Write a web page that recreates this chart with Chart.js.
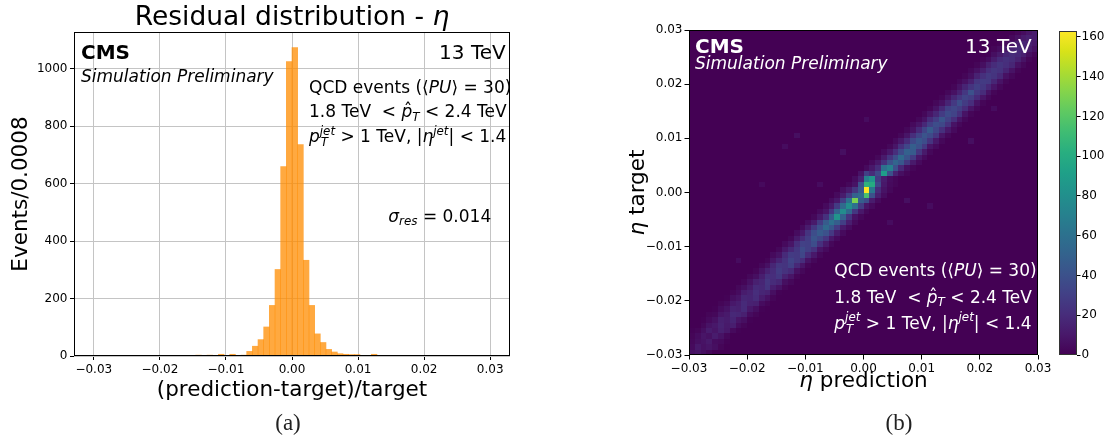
<!DOCTYPE html>
<html>
<head>
<meta charset="utf-8">
<title>Residual distribution - eta</title>
<script src="https://cdn.jsdelivr.net/npm/chart.js@4.4.1/dist/chart.umd.min.js"></script>
<style>
  html, body { margin: 0; padding: 0; background: #fff; }
  #wrap { position: relative; width: 1110px; height: 440px; overflow: hidden; }
  canvas { position: absolute; top: 0; }
  #c-hist { left: 0; }
  #c-heat { left: 560px; }
  #c-cbar { left: 1040px; }
  .panel-tag { position: absolute; top: 410px; font: 23px "Liberation Serif", serif; color: #222; transform: translateX(-50%); }
</style>
</head>
<body>
<div id="wrap">
  <canvas id="c-hist" width="540" height="440"></canvas>
  <canvas id="c-cbar" width="70" height="440"></canvas>
  <canvas id="c-heat" width="500" height="440"></canvas>
  <div class="panel-tag" style="left:288px">(a)</div>
  <div class="panel-tag" style="left:899px">(b)</div>
</div>
<script>
// ── Data ──────────────────────────────────────────────────

// (a) residual histogram: 70 bins between histLo and histHi
const histLo = -0.03;
const histHi = 0.03;
const histCounts = [
  0, 0, 1, 0, 0, 1, 1, 0, 2, 1,
  1, 2, 1, 1, 2, 1, 2, 2, 3, 2,
  3, 2, 6, 2, 6, 2, 3, 16, 34, 57,
  101, 176, 301, 659, 1024, 1073, 735, 333, 176, 77,
  47, 23, 14, 8, 6, 5, 5, 2, 2, 6,
  2, 1, 2, 1, 1, 2, 1, 1, 1, 2,
  1, 1, 2, 1, 1, 1, 0, 1, 1, 0,
];
const histXTicks = [-0.03, -0.02, -0.01, 0, 0.01, 0.02, 0.03];
const histYTicks = [0, 200, 400, 600, 800, 1000];
const histXMin = -0.033;
const histXMax = 0.033;
const histYMax = 1127;

// (b) 2D histogram: 60 x 60 bins, eta prediction (x) vs eta target (y)
const heatLo = -0.03;
const heatHi = 0.03;
const heatBins = 60;
// one row per target bin (bottom to top); entries are the counts in
// prediction bins row-4 .. row+4 (the band along the diagonal)
const heatRows = [
  [0, 0, 0, 0, 7, 9, 6, 3, 0],
  [0, 0, 0, 4, 10, 7, 9, 6, 2],
  [0, 0, 3, 6, 8, 11, 5, 4, 1],
  [0, 2, 5, 9, 7, 12, 8, 3, 0],
  [1, 2, 6, 12, 9, 14, 10, 4, 1],
  [0, 3, 8, 10, 15, 11, 13, 5, 2],
  [1, 4, 7, 14, 12, 16, 9, 6, 1],
  [2, 3, 9, 11, 18, 17, 14, 5, 2],
  [1, 5, 8, 15, 14, 19, 10, 6, 1],
  [2, 4, 10, 13, 19, 15, 14, 5, 2],
  [1, 6, 9, 17, 16, 20, 12, 7, 2],
  [2, 5, 12, 15, 21, 17, 15, 6, 1],
  [3, 6, 11, 19, 18, 24, 13, 8, 2],
  [2, 7, 14, 17, 25, 20, 17, 6, 3],
  [3, 6, 13, 22, 21, 26, 15, 9, 2],
  [2, 8, 15, 20, 28, 23, 19, 7, 3],
  [3, 7, 17, 25, 24, 30, 18, 9, 2],
  [2, 9, 16, 23, 32, 27, 21, 8, 3],
  [4, 8, 19, 28, 27, 34, 20, 10, 3],
  [3, 10, 18, 26, 36, 30, 23, 9, 4],
  [4, 9, 21, 31, 30, 38, 22, 11, 3],
  [3, 11, 20, 29, 42, 35, 25, 10, 4],
  [5, 10, 24, 38, 46, 40, 27, 12, 4],
  [4, 12, 26, 40, 55, 44, 28, 11, 5],
  [5, 11, 28, 46, 60, 48, 30, 13, 4],
  [3, 10, 22, 48, 84, 50, 24, 8, 3],
  [4, 9, 26, 52, 78, 55, 26, 10, 3],
  [4, 11, 28, 56, 80, 60, 28, 9, 4],
  [5, 10, 30, 60, 130, 48, 38, 12, 4],
  [4, 12, 28, 50, 56, 115, 40, 14, 5],
  [6, 12, 25, 45, 163, 65, 20, 8, 3],
  [3, 8, 40, 105, 100, 35, 10, 4, 2],
  [5, 15, 70, 85, 28, 12, 5, 2, 0],
  [8, 30, 20, 35, 90, 40, 15, 6, 2],
  [4, 10, 20, 60, 70, 40, 18, 6, 2],
  [4, 10, 22, 40, 52, 44, 26, 11, 4],
  [3, 11, 24, 38, 56, 42, 28, 10, 4],
  [4, 10, 21, 36, 50, 46, 25, 11, 3],
  [3, 9, 22, 34, 48, 40, 27, 9, 4],
  [4, 10, 20, 35, 44, 38, 24, 10, 3],
  [3, 9, 21, 32, 42, 36, 25, 9, 3],
  [3, 8, 19, 33, 46, 34, 22, 10, 4],
  [4, 9, 18, 30, 38, 35, 23, 8, 3],
  [3, 8, 20, 29, 42, 31, 21, 9, 3],
  [3, 9, 17, 28, 36, 32, 22, 8, 2],
  [2, 8, 18, 30, 34, 29, 20, 9, 3],
  [3, 7, 16, 27, 38, 28, 21, 8, 2],
  [2, 8, 17, 25, 32, 29, 19, 9, 3],
  [3, 7, 15, 26, 40, 27, 20, 8, 2],
  [2, 8, 16, 24, 30, 26, 18, 9, 3],
  [3, 7, 14, 25, 28, 27, 17, 8, 2],
  [2, 6, 15, 22, 27, 24, 18, 7, 3],
  [3, 7, 13, 21, 25, 23, 16, 8, 2],
  [2, 6, 14, 20, 24, 21, 17, 7, 3],
  [2, 5, 12, 19, 22, 20, 15, 8, 2],
  [1, 6, 11, 17, 20, 18, 14, 6, 2],
  [2, 5, 10, 15, 18, 16, 12, 7, 1],
  [1, 4, 9, 13, 16, 14, 10, 5, 1],
  [0, 3, 7, 11, 14, 12, 8, 4, 0],
  [0, 2, 5, 9, 12, 10, 6, 0, 0],
];
// isolated faint cells away from the band: [prediction bin, target bin, count]
const strayCells = [
  [18, 40, 6], [16, 38, 5], [30, 43, 5], [48, 39, 6], [37, 28, 6],
  [22, 31, 5], [12, 31, 4], [34, 24, 5], [26, 37, 6], [41, 27, 5],
  [8, 17, 5], [52, 45, 5],
];
const heatTicks = [-0.03, -0.02, -0.01, 0, 0.01, 0.02, 0.03];

// colour bar
const cbMax = 163;
const cbTicks = [0, 20, 40, 60, 80, 100, 120, 140, 160];

// ── Helpers ───────────────────────────────────────────────

const FAMILY = '"DejaVu Sans"';
const MINUS = '\u2212';

// matplotlib viridis, 17 evenly spaced samples
const VIRIDIS = [
  '#440154', '#48186a', '#472d7b', '#424086', '#3b528b', '#33638d',
  '#2c728e', '#26828e', '#21918c', '#1fa088', '#28ae80', '#3fbc73',
  '#5ec962', '#84d44b', '#addc30', '#d8e219', '#fde725',
];

function hexRgb(h) {
  return [1, 3, 5].map(i => parseInt(h.slice(i, i + 2), 16));
}

function viridis(t) {
  t = Math.max(0, Math.min(1, t));
  const p = t * (VIRIDIS.length - 1);
  const i = Math.min(VIRIDIS.length - 2, Math.floor(p));
  const f = p - i;
  const a = hexRgb(VIRIDIS[i]);
  const b = hexRgb(VIRIDIS[i + 1]);
  const c = a.map((v, k) => Math.round(v + (b[k] - v) * f));
  return `rgb(${c[0]},${c[1]},${c[2]})`;
}

function fmtTick(v) {
  const s = Math.abs(v) < 1e-9 ? '0.00' : v.toFixed(2);
  return s.replace('-', MINUS);
}

function fontStr(size, st) {
  return (st.includes('i') ? 'italic ' : '') + (st.includes('b') ? 'bold ' : '') + size + 'px ' + FAMILY;
}

// Runs: [text], [text,'i'|'b'], [text,'sub'], [text,'sup'], [sup,sub,'stack'], [text,'hat']
function drawRich(ctx, item) {
  const { runs, size, x, y, align = 'left', color = '#000', rotate = 0 } = item;
  const small = size * 0.7;
  const pieces = [];
  let w = 0;
  const put = (t, f, dx, dy) => {
    ctx.font = f;
    pieces.push({ t, f, dx, dy });
    return ctx.measureText(t).width;
  };
  runs.forEach(([a, b = '', c]) => {
    if (c === 'stack') {
      const w1 = put(a, fontStr(small, 'i'), w, -size * 0.42);
      const w2 = put(b, fontStr(small, 'i'), w + 1, size * 0.24);
      w += Math.max(w1, w2 + 1);
    } else if (b === 'sub') {
      w += put(a, fontStr(small, 'i'), w, size * 0.22);
    } else if (b === 'sup') {
      w += put(a, fontStr(small, 'i'), w, -size * 0.42);
    } else if (b === 'hat') {
      const pw = put(a, fontStr(size, 'i'), w, 0);
      ctx.font = fontStr(size, '');
      const hw = ctx.measureText('\u02c6').width;
      put('\u02c6', fontStr(size, ''), w + pw / 2 - hw / 2 + size * 0.06, -size * 0.05);
      w += pw;
    } else {
      w += put(a, fontStr(size, b), w, 0);
    }
  });
  const x0 = align === 'right' ? -w : align === 'center' ? -w / 2 : 0;
  ctx.save();
  ctx.translate(x, y);
  ctx.rotate(rotate);
  ctx.fillStyle = color;
  ctx.textBaseline = 'alphabetic';
  ctx.textAlign = 'left';
  pieces.forEach(p => {
    ctx.font = p.f;
    ctx.fillText(p.t, x0 + p.dx, p.dy);
  });
  ctx.restore();
}

// Draws the text list and the black frame round the plot area
const decorPlugin = {
  id: 'decor',
  afterDraw(chart, args, opts) {
    const ctx = chart.ctx;
    const a = chart.chartArea;
    if (opts.frame) {
      ctx.save();
      ctx.strokeStyle = opts.frame;
      ctx.lineWidth = 1;
      ctx.strokeRect(a.left + 0.5, a.top + 0.5, a.right - a.left - 1, a.bottom - a.top - 1);
      ctx.restore();
    }
    (opts.texts || []).forEach(t => drawRich(ctx, t));
  },
};

// Paints the 2D histogram cells through the chart's own scales
const heatPlugin = {
  id: 'heat',
  beforeDatasetsDraw(chart, args, opts) {
    if (!opts.enabled) return;
    const ctx = chart.ctx;
    const a = chart.chartArea;
    const xs = chart.scales.x;
    const ys = chart.scales.y;
    const half = (heatHi - heatLo) / heatBins / 2;
    ctx.save();
    ctx.fillStyle = viridis(0);
    ctx.fillRect(a.left, a.top, a.right - a.left, a.bottom - a.top);
    chart.data.datasets[0].data.forEach(p => {
      const x0 = Math.round(xs.getPixelForValue(p.x - half));
      const x1 = Math.round(xs.getPixelForValue(p.x + half));
      const y0 = Math.round(ys.getPixelForValue(p.y + half));
      const y1 = Math.round(ys.getPixelForValue(p.y - half));
      ctx.fillStyle = viridis(p.v / cbMax);
      ctx.fillRect(x0, y0, x1 - x0, y1 - y0);
    });
    ctx.restore();
  },
};

Chart.register(decorPlugin, heatPlugin);
Chart.defaults.font.family = FAMILY;
Chart.defaults.font.size = 12;
Chart.defaults.color = '#000';

const TICK_FONT = { family: FAMILY, size: 12 };

// keep the plot box fixed: no extra room for overhanging end labels
function fixX(h) {
  return s => { s.height = h; s.paddingLeft = 0; s.paddingRight = 0; };
}
function fixY(w) {
  return s => { s.width = w; s.paddingTop = 0; s.paddingBottom = 0; };
}

// ── (a) Residual histogram ────────────────────────────────

const histW = (histHi - histLo) / histCounts.length;
const histPoints = histCounts.map((n, i) => ({ x: histLo + (i + 0.5) * histW, y: n }));

const leftTexts = [
  { runs: [['Residual distribution - '], ['\u03b7', 'i']], size: 26.5, x: 292, y: 25, align: 'center' },
  { runs: [['Events/0.0008']], size: 21.5, x: 27, y: 194, align: 'center', rotate: -Math.PI / 2 },
  { runs: [['(prediction-target)/target']], size: 21.5, x: 292, y: 396, align: 'center' },
  { runs: [['CMS', 'b']], size: 20, x: 81, y: 59.3 },
  { runs: [['Simulation Preliminary', 'i']], size: 17, x: 81, y: 82 },
  { runs: [['13 TeV']], size: 20, x: 505.7, y: 59.3, align: 'right' },
  { runs: [['QCD events (\u27e8'], ['PU', 'i'], ['\u27e9 = 30)']], size: 17, x: 309, y: 92.5 },
  { runs: [['1.8 TeV  < '], ['p', 'hat'], ['T', 'sub'], [' < 2.4 TeV']], size: 17, x: 309, y: 117 },
  { runs: [['p', 'i'], ['jet', 'T', 'stack'], [' > 1 TeV, |'], ['\u03b7', 'i'], ['jet', 'sup'], ['| < 1.4']], size: 17, x: 309, y: 142 },
  { runs: [['\u03c3', 'i'], ['res', 'sub'], [' = 0.014']], size: 17, x: 388.3, y: 221.5 },
];

new Chart(document.getElementById('c-hist'), {
  type: 'bar',
  data: {
    datasets: [{
      data: histPoints,
      backgroundColor: 'rgba(255,140,0,0.75)',
      borderWidth: 0,
      barPercentage: 1,
      categoryPercentage: 1,
    }],
  },
  options: {
    responsive: false,
    animation: false,
    devicePixelRatio: 1,
    events: [],
    layout: { padding: { top: 32, right: 30, left: 0, bottom: 0 } },
    plugins: {
      legend: { display: false },
      tooltip: { enabled: false },
      decor: { frame: '#000', texts: leftTexts },
      heat: { enabled: false },
    },
    scales: {
      x: {
        type: 'linear',
        min: histXMin,
        max: histXMax,
        offset: false,
        grid: { offset: false, color: '#c4c4c4', lineWidth: 1, tickColor: '#000', tickLength: 4 },
        border: { display: false },
        ticks: { font: TICK_FONT, padding: 3, maxRotation: 0, callback: v => fmtTick(v) },
        afterBuildTicks: s => { s.ticks = histXTicks.map(v => ({ value: v })); },
        afterFit: fixX(84),
      },
      y: {
        min: 0,
        max: histYMax,
        grid: { color: '#c4c4c4', lineWidth: 1, tickColor: '#000', tickLength: 4 },
        border: { display: false },
        ticks: { font: TICK_FONT, padding: 2.5, callback: v => String(v) },
        afterBuildTicks: s => { s.ticks = histYTicks.map(v => ({ value: v })); },
        afterFit: fixY(74),
      },
    },
  },
});

// ── (b) Prediction vs target 2D histogram ─────────────────

const heatW = (heatHi - heatLo) / heatBins;
const heatPoints = [];
heatRows.forEach((row, j) => row.forEach((v, k) => {
  const i = j + k - 4;
  if (v > 0 && i >= 0 && i < heatBins) {
    heatPoints.push({ x: heatLo + (i + 0.5) * heatW, y: heatLo + (j + 0.5) * heatW, v });
  }
}));
strayCells.forEach(([i, j, v]) => {
  heatPoints.push({ x: heatLo + (i + 0.5) * heatW, y: heatLo + (j + 0.5) * heatW, v });
});

const rightTexts = [
  { runs: [['\u03b7', 'i'], [' target']], size: 21.5, x: 84, y: 192.5, align: 'center', rotate: -Math.PI / 2 },
  { runs: [['\u03b7', 'i'], [' prediction']], size: 21.5, x: 303.5, y: 387, align: 'center' },
  { runs: [['CMS', 'b']], size: 20, x: 135, y: 53.3, color: '#fff' },
  { runs: [['Simulation Preliminary', 'i']], size: 17, x: 135, y: 69, color: '#fff' },
  { runs: [['13 TeV']], size: 20, x: 471.7, y: 53.3, align: 'right', color: '#fff' },
  { runs: [['QCD events (\u27e8'], ['PU', 'i'], ['\u27e9 = 30)']], size: 17, x: 274.3, y: 276.4, color: '#fff' },
  { runs: [['1.8 TeV  < '], ['p', 'hat'], ['T', 'sub'], [' < 2.4 TeV']], size: 17, x: 274.3, y: 302.5, color: '#fff' },
  { runs: [['p', 'i'], ['jet', 'T', 'stack'], [' > 1 TeV, |'], ['\u03b7', 'i'], ['jet', 'sup'], ['| < 1.4']], size: 17, x: 274.3, y: 328.5, color: '#fff' },
];

const heatAxis = (pos) => ({
  type: 'linear',
  position: pos,
  min: heatLo,
  max: heatHi,
  grid: { drawOnChartArea: false, tickColor: '#000', tickLength: 4.5 },
  border: { display: false },
  ticks: { font: TICK_FONT, padding: 2, maxRotation: 0, callback: v => fmtTick(v) },
  afterBuildTicks: s => { s.ticks = heatTicks.map(v => ({ value: v })); },
});

new Chart(document.getElementById('c-heat'), {
  type: 'scatter',
  data: { datasets: [{ data: heatPoints, pointRadius: 0, pointHoverRadius: 0 }] },
  options: {
    responsive: false,
    animation: false,
    devicePixelRatio: 1,
    events: [],
    parsing: false,
    layout: { padding: { top: 30, right: 22, left: 0, bottom: 0 } },
    plugins: {
      legend: { display: false },
      tooltip: { enabled: false },
      heat: { enabled: true },
      decor: { frame: '#000', texts: rightTexts },
    },
    scales: {
      x: Object.assign(heatAxis('bottom'), { afterFit: fixX(85) }),
      y: Object.assign(heatAxis('left'), { afterFit: fixY(129) }),
    },
  },
});

// ── Colour bar ────────────────────────────────────────────

new Chart(document.getElementById('c-cbar'), {
  type: 'bar',
  data: {
    labels: [''],
    datasets: [{
      data: [[0, cbMax]],
      borderWidth: 0,
      barPercentage: 1,
      categoryPercentage: 1,
      backgroundColor: (c) => {
        const a = c.chart.chartArea;
        if (!a) return viridis(0);
        const g = c.chart.ctx.createLinearGradient(0, a.bottom, 0, a.top);
        VIRIDIS.forEach((col, i) => g.addColorStop(i / (VIRIDIS.length - 1), col));
        return g;
      },
    }],
  },
  options: {
    responsive: false,
    animation: false,
    devicePixelRatio: 1,
    events: [],
    layout: { padding: { top: 31, right: 0, left: 19, bottom: 85 } },
    plugins: {
      legend: { display: false },
      tooltip: { enabled: false },
      heat: { enabled: false },
      decor: { frame: '#333' },
    },
    scales: {
      x: { display: false },
      y: {
        position: 'right',
        min: 0,
        max: cbMax,
        grid: { drawOnChartArea: false, tickColor: '#000', tickLength: 3.5 },
        border: { display: false },
        ticks: { font: TICK_FONT, padding: 1, callback: v => String(v) },
        afterBuildTicks: s => { s.ticks = cbTicks.map(v => ({ value: v })); },
        afterFit: fixY(33),
      },
    },
  },
});
</script>
</body>
</html>
